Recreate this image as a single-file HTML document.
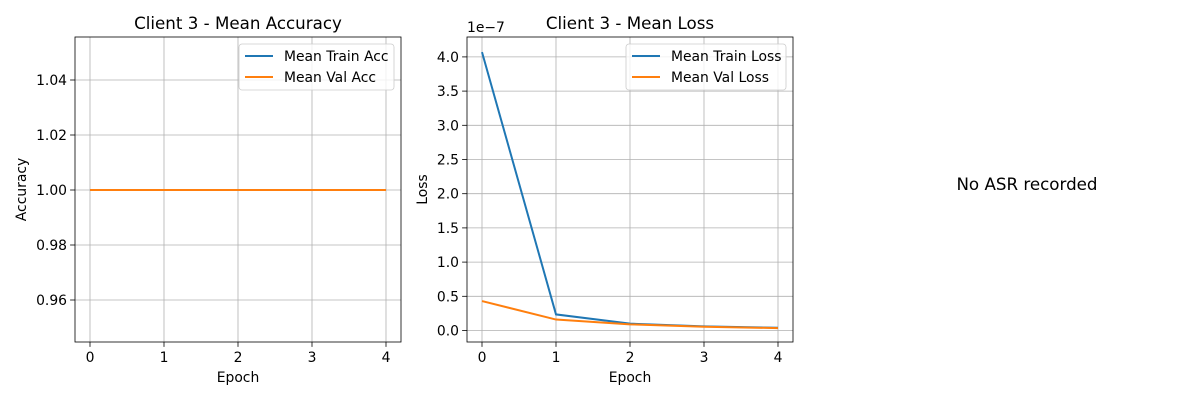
<!DOCTYPE html>
<html><head><meta charset="utf-8"><style>
body{margin:0;background:#fff;font-family:"DejaVu Sans","Liberation Sans",sans-serif}
svg text{font-family:"DejaVu Sans","Liberation Sans",sans-serif}
</style></head><body>
<svg id="c" width="1200" height="400" xmlns="http://www.w3.org/2000/svg"></svg>
<script>
const epochs=[0,1,2,3,4];
const trainAcc=[1,1,1,1,1];
const valAcc=[1,1,1,1,1];
const trainLoss=[4.07,0.235,0.10,0.06,0.04];
const valLoss=[0.43,0.16,0.09,0.055,0.035];
const accTicks=[0.96,0.98,1.00,1.02,1.04];
const lossTicks=[0.0,0.5,1.0,1.5,2.0,2.5,3.0,3.5,4.0];
const svg=document.getElementById('c');const NS='http://www.w3.org/2000/svg';
function el(t,a,p){const e=document.createElementNS(NS,t);for(const k in a)e.setAttribute(k,a[k]);(p||svg).appendChild(e);return e;}
function txt(s,a,p){const e=el('text',a,p);e.textContent=s;return e;}
const FS=13.9, TF=16.7;
function panel(name,L,R,T,B,xf,yf,yTicks,fmt,series,title,ylabel,ylx,legend,lx,lw){
 const g=el('g',{});
 epochs.forEach(v=>{const x=xf(v);el('line',{x1:x,x2:x,y1:T,y2:B,stroke:'#b0b0b0','stroke-width':0.8},g);el('line',{x1:x,x2:x,y1:B,y2:B+4.9,stroke:'#000','stroke-width':0.8},g);const t=txt(String(v),{x:x,y:B+20,'font-size':FS,'text-anchor':'middle'},g);});
 yTicks.forEach(v=>{const y=yf(v);el('line',{x1:L,x2:R,y1:y,y2:y,stroke:'#b0b0b0','stroke-width':0.8},g);el('line',{x1:L-4.9,x2:L,y1:y,y2:y,stroke:'#000','stroke-width':0.8},g);const t=txt(fmt(v),{x:L-8,y:y+5,'font-size':FS,'text-anchor':'end'},g);});
 series.forEach(s=>{const p=el('polyline',{points:s.d.map((v,i)=>xf(epochs[i])+','+yf(v)).join(' '),fill:'none',stroke:s.c,'stroke-width':2},g);});
 el('rect',{x:L,y:T,width:R-L,height:B-T,fill:'none',stroke:'#000','stroke-width':0.8},g);
 const tt=txt(title,{x:(L+R)/2,y:T-8,'font-size':TF,'text-anchor':'middle'},g);
 const xl=txt('Epoch',{x:(L+R)/2,y:B+40,'font-size':FS,'text-anchor':'middle'},g);
 const yl=txt(ylabel,{x:0,y:0,'font-size':FS,'text-anchor':'middle',transform:`translate(${ylx},${(T+B)/2}) rotate(-90)`},g);
 const lg=el('g',{},g);
 el('rect',{x:lx,y:T+7,width:lw,height:46,rx:3,fill:'#fff','fill-opacity':0.8,stroke:'#ccc','stroke-width':0.8},lg);
 legend.forEach((s,i)=>{const y=T+19+i*21;el('line',{x1:lx+6,x2:lx+34,y1:y,y2:y,stroke:s.c,'stroke-width':2},lg);const t=txt(s.n,{x:lx+45,y:y+5,'font-size':FS},lg);});
 return g;
}
const ax1=v=>90+(v/4)*296, ay1=v=>190-(v-1)/0.02*55;
panel('accuracy-chart',75,401,37,342,ax1,ay1,accTicks,v=>v.toFixed(2),
 [{d:trainAcc,c:'#1f77b4',n:'train-acc-line'},{d:valAcc,c:'#ff7f0e',n:'val-acc-line'}],
 'Client 3 - Mean Accuracy','Accuracy',26,[{n:'Mean Train Acc',c:'#1f77b4'},{n:'Mean Val Acc',c:'#ff7f0e'}],239,155);
const ax2=v=>482+(v/4)*296, ay2=v=>330.5-v*68.4;
const g2=panel('loss-chart',467,793,37,342,ax2,ay2,lossTicks,v=>v.toFixed(1),
 [{d:trainLoss,c:'#1f77b4',n:'train-loss-line'},{d:valLoss,c:'#ff7f0e',n:'val-loss-line'}],
 'Client 3 - Mean Loss','Loss',427,[{n:'Mean Train Loss',c:'#1f77b4'},{n:'Mean Val Loss',c:'#ff7f0e'}],626,160);
const ox=txt('1e\u22127',{x:467,y:32,'font-size':FS},g2);
const na=txt('No ASR recorded',{x:1027,y:190,'font-size':TF,'text-anchor':'middle'});

</script>
</body></html>
